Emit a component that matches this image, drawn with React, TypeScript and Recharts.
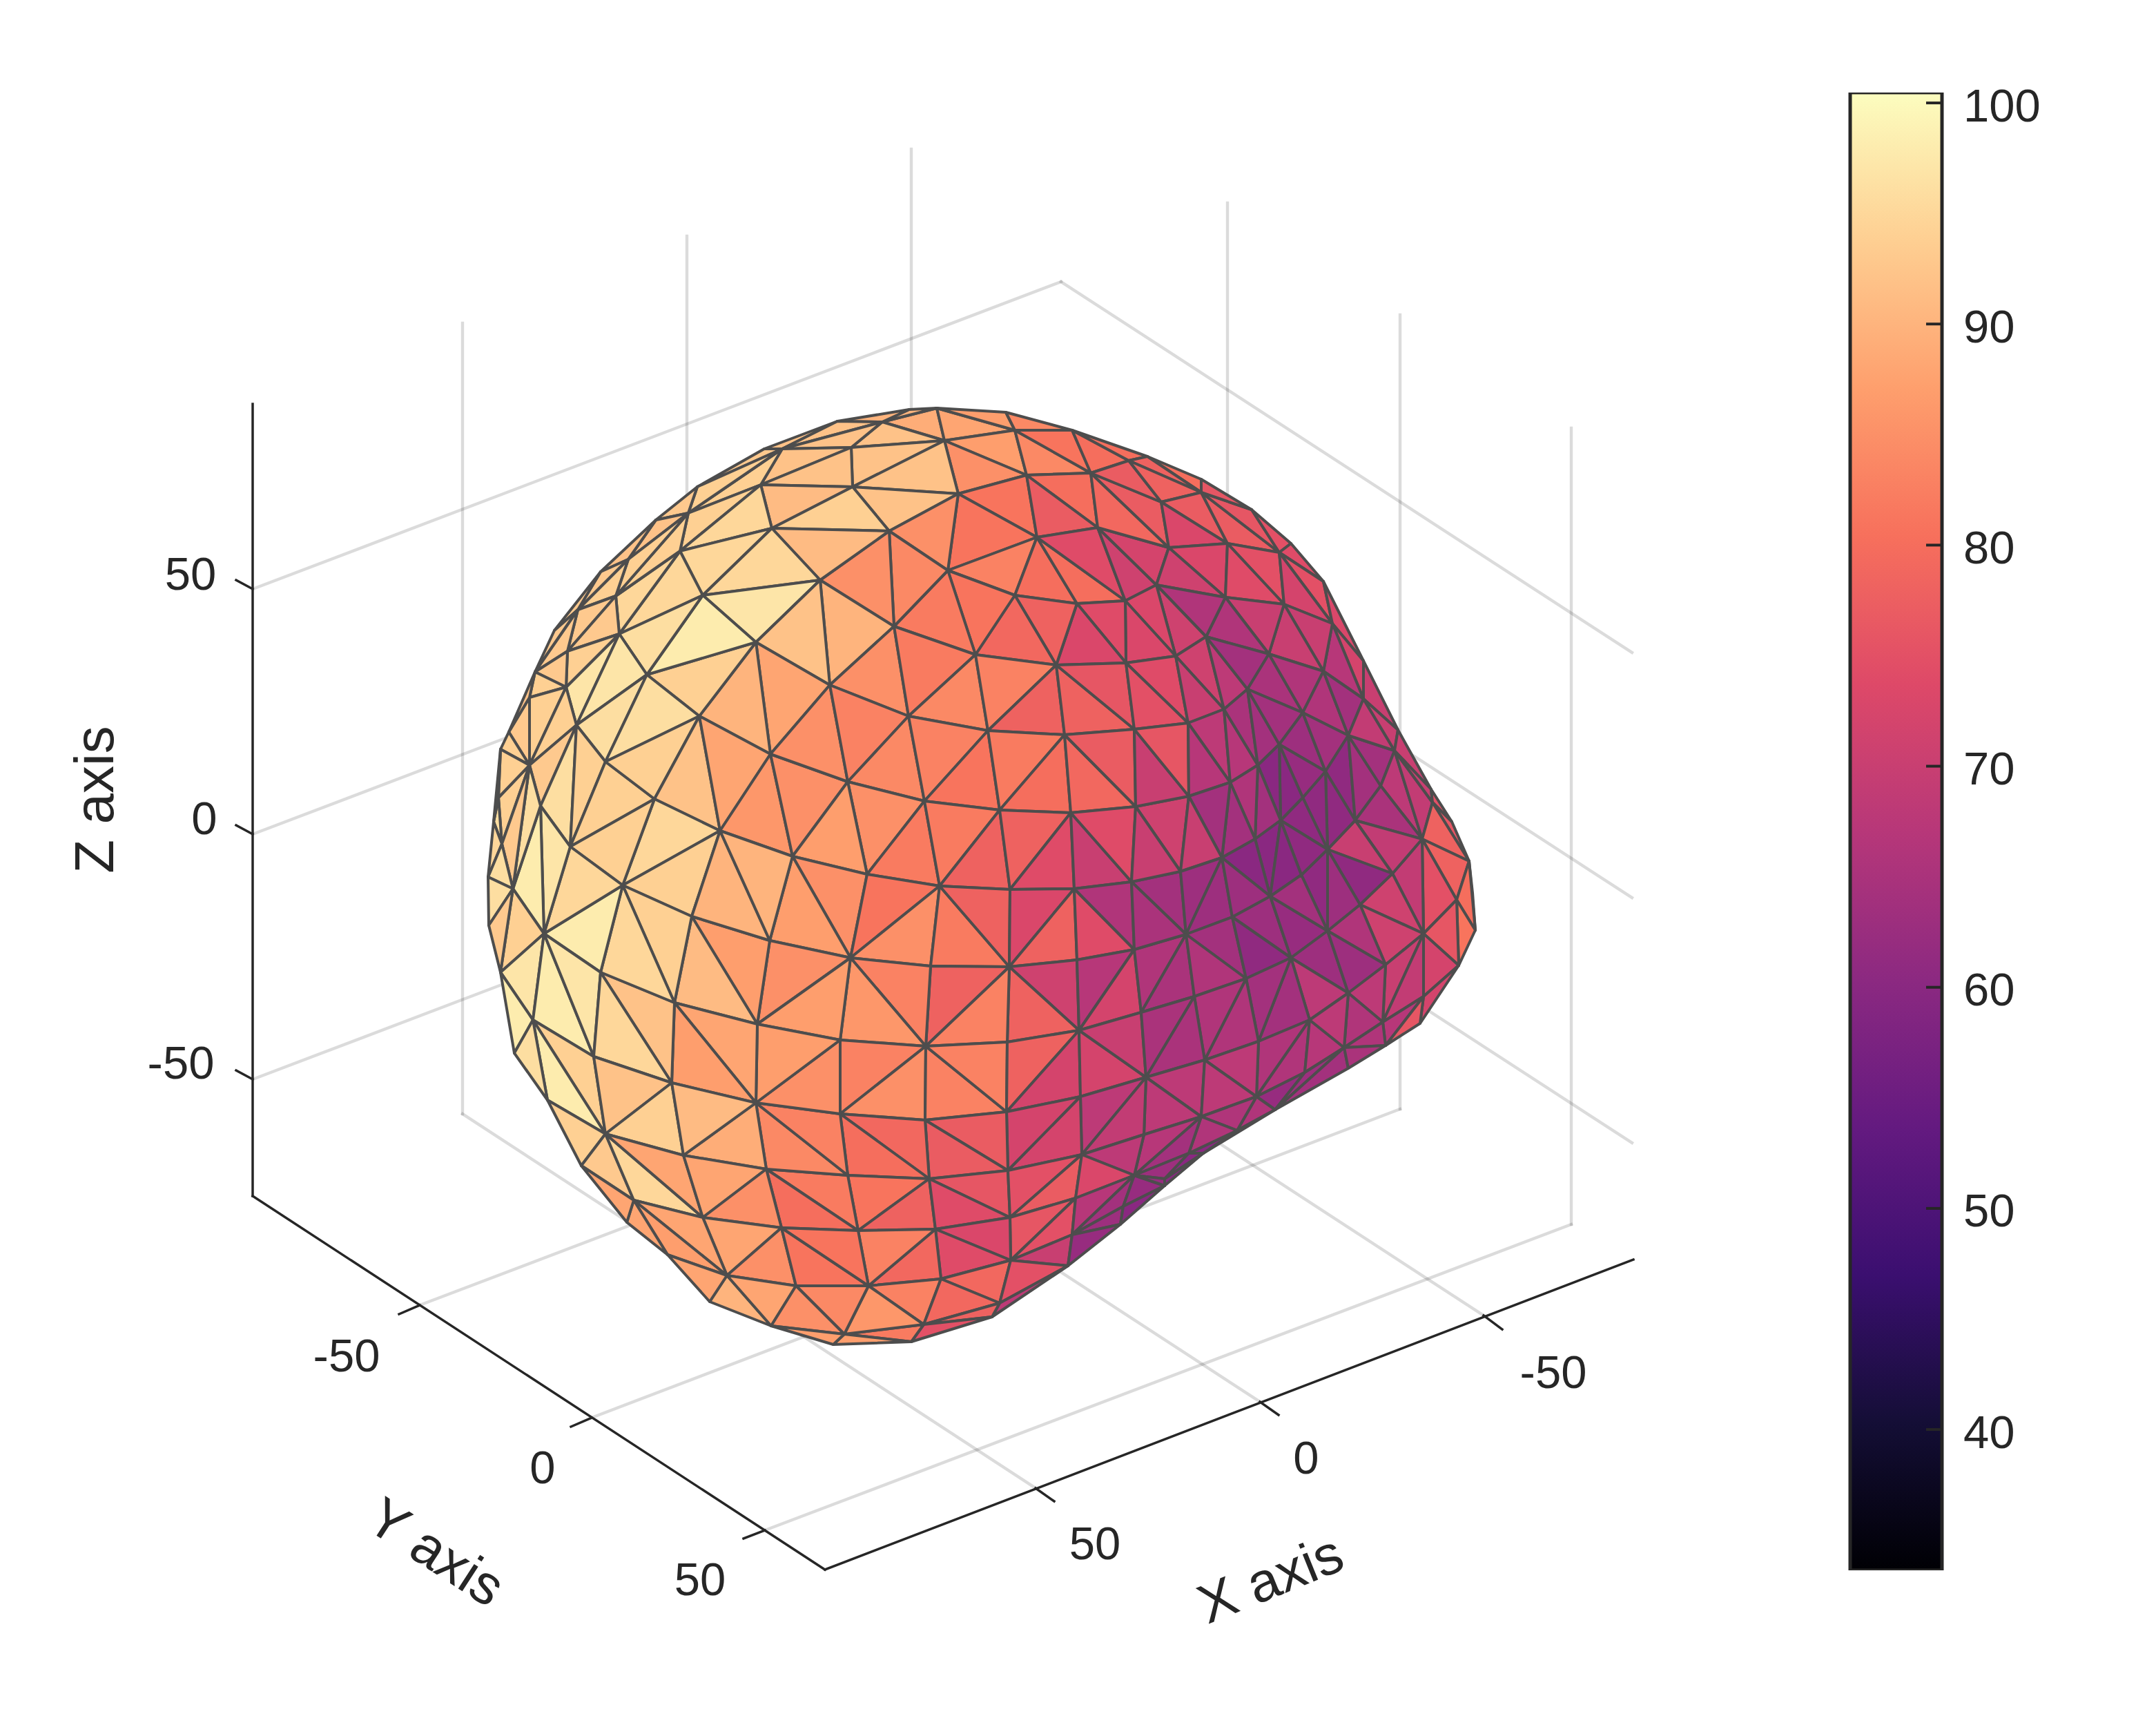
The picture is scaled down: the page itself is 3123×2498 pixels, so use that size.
import React from "react";
import { Bar, BarChart, Scatter, ScatterChart, XAxis, YAxis } from "recharts";

// outline first (0-47), then the inner mesh nodes in plot units
const meshVertices: [number, number][] = [
  [1357,591],[1457,597],[1553,623],[1662,661],[1740,694],[1813,738],[1870,787],[1917,842],[1975,957],[2025,1057],
  [2073,1143],[2103,1190],[2128,1247],[2133,1293],[2137,1347],[2113,1398],[2057,1482],[2007,1514],[1953,1547],[1847,1607],
  [1743,1670],[1687,1717],[1623,1773],[1547,1833],[1437,1907],[1320,1943],[1207,1947],[1117,1920],[1028,1885],[967,1817],
  [908,1770],[842,1688],[793,1593],[745,1525],[725,1408],[708,1340],[707,1270],[715,1190],[725,1085],[737,1060],
  [775,973],[803,913],[870,828],[950,753],[1010,705],[1107,650],[1213,610],[1317,593],[1278,611],[1368,638],
  [1470,623],[1233,648],[1487,688],[1580,685],[1235,705],[1388,715],[1288,769],[1502,778],[1590,764],[1373,826],
  [1188,840],[1470,862],[1560,874],[1630,870],[1675,847],[1295,907],[1413,948],[1530,963],[1631,960],[1202,992],
  [1316,1037],[1431,1058],[1542,1064],[1643,1056],[1133,650],[1102,702],[1033,693],[997,743],[1118,765],[985,798],
  [910,810],[1018,862],[892,863],[897,918],[837,883],[1095,930],[822,943],[937,977],[820,995],[1013,1037],
  [835,1050],[767,1010],[1116,1092],[1635,667],[1740,713],[1682,727],[1693,793],[1778,787],[1853,800],[1775,865],
  [1860,875],[1930,903],[1747,922],[1703,950],[1838,947],[1917,972],[1975,1012],[1807,998],[1887,1032],[1773,1027],
  [1721,1047],[1953,1065],[1853,1078],[2020,1087],[1822,1108],[1920,1117],[1782,1133],[1887,1155],[2000,1138],[1722,1153],
  [1855,1188],[1963,1188],[2075,1162],[2060,1215],[1818,1215],[1923,1230],[1770,1242],[1710,1262],[2017,1265],[1885,1267],
  [1840,1298],[2110,1303],[1970,1310],[1785,1328],[1923,1348],[2062,1352],[1718,1353],[1870,1387],[2007,1397],[1805,1417],
  [1953,1438],[2062,1443],[1730,1443],[1897,1477],[2003,1480],[1823,1508],[1947,1517],[1745,1535],[1660,1560],[1890,1553],
  [1820,1588],[1740,1617],[1657,1643],[1722,1670],[1687,1707],[1792,1637],[1228,1132],[1339,1160],[1448,1173],[1551,1177],
  [1645,1168],[1256,1266],[1361,1283],[1463,1288],[1556,1287],[1639,1277],[1232,1387],[1348,1399],[1462,1400],[1560,1390],
  [1643,1375],[1653,1466],[1563,1492],[1459,1509],[1341,1515],[1217,1506],[877,1103],[767,1108],[948,1157],[783,1167],
  [722,1155],[1043,1203],[826,1226],[1148,1240],[727,1222],[902,1282],[743,1287],[1002,1327],[788,1352],[1115,1362],
  [870,1408],[977,1452],[1097,1483],[772,1477],[860,1530],[973,1568],[1095,1597],[877,1642],[990,1673],[1110,1693],
  [918,1738],[1018,1763],[1132,1778],[1053,1847],[1153,1862],[1217,1613],[1340,1622],[1458,1610],[1565,1588],[1228,1702],
  [1346,1707],[1460,1695],[1567,1672],[1643,1702],[1243,1782],[1355,1780],[1463,1763],[1558,1735],[1627,1747],[1258,1862],
  [1363,1852],[1464,1825],[1553,1788],[1448,1887],[1338,1918],[1223,1932],
];

// three node indices and the value of the face
const meshFaces: [number, number, number, number][] = [
  // top cap
  [0,49,48,89],[0,47,48,90],[46,47,48,90],[0,50,49,88],[0,1,50,87],[1,2,50,84],[49,50,52,87],[50,53,52,84],[50,2,53,81],[2,93,53,80],
  [2,3,93,80],[49,52,55,85],[48,49,51,92],[51,49,54,92],[54,49,55,92],[54,55,56,92],[55,52,57,81],[52,53,58,80],[52,58,57,77],[55,57,59,81],
  [55,59,56,85],[57,59,61,83],[57,61,62,80],[57,62,63,80],[57,63,58,74],[58,64,63,71],[58,96,64,72],[53,58,96,79],[53,96,95,77],[53,95,93,77],
  [3,4,94,80],[3,94,93,78],[93,94,95,78],[95,94,97,77],[95,97,96,73],[96,97,99,73],[96,99,64,71],[94,98,97,77],[94,5,98,76],[4,5,94,76],
  [5,6,98,75],[6,7,98,74],[98,101,7,75],[97,98,100,75],[97,100,99,74],[98,101,100,72],[7,8,101,73],[101,8,106,72],[8,9,106,70],[101,106,105,67],
  [100,101,105,70],[100,105,104,70],[99,100,104,70],[99,104,102,66],[64,99,102,66],[64,102,103,71],[63,64,103,73],[63,103,68,73],[68,103,110,74],[63,62,68,74],
  [62,67,68,73],[61,62,67,78],[61,67,66,79],[59,61,66,81],[59,66,65,82],[56,59,65,84],[56,65,60,85],[60,65,69,90],[65,69,70,85],[65,66,70,82],
  [66,71,70,84],[66,67,71,83],[71,67,72,78],[67,73,72,78],[67,68,73,76],[68,110,73,75],
  // upper left
  [45,46,74,92],[46,48,74,92],[74,48,51,92],[74,51,75,92],[75,51,54,92],[75,54,78,91],[78,54,56,94],[78,56,60,91],[74,75,77,94],[77,75,79,94],
  [79,75,78,95],[79,78,81,95],[81,78,60,95],[81,60,85,97],[60,69,85,92],[85,69,92,88],[85,92,89,90],[87,85,89,94],[81,85,87,98],[79,81,83,95],
  [82,79,83,95],[83,81,87,96],[83,87,88,97],[83,88,90,97],[83,87,90,97],[87,176,90,96],[87,89,176,96],[44,45,74,93],[44,74,77,94],[43,44,77,93],
  [77,79,82,94],[43,77,80,92],[80,77,82,94],[43,80,42,92],[42,80,84,93],[80,82,84,94],[84,82,86,93],[82,83,86,93],[86,83,88,94],[41,42,84,93],
  [41,84,40,93],[84,86,40,93],[40,86,88,93],[40,88,91,94],[91,88,177,94],[88,90,177,94],[177,90,179,93],[90,182,179,96],[90,176,182,94],[176,178,182,94],
  [176,89,178,94],[89,181,178,92],[89,92,181,88],[92,183,181,86],[92,156,183,85],[69,156,92,85],[69,70,156,83],[70,157,156,84],[70,71,157,83],
  // center
  [71,158,157,81],[71,72,158,82],[72,159,158,80],[72,160,159,79],[72,73,160,77],[156,157,161,85],[157,162,161,82],[157,158,162,82],[158,163,162,78],[158,159,163,78],
  [159,164,163,74],[159,165,164,70],[159,160,165,74],[156,161,183,87],[183,161,166,85],[183,166,189,87],[161,162,166,81],[162,167,166,85],[162,168,167,82],[162,163,168,78],
  [163,164,168,73],[164,169,168,78],[164,170,169,74],[164,165,170,66],[168,169,172,71],[169,170,172,67],[170,171,172,72],[168,172,173,78],[167,168,174,78],[168,173,174,83],
  [166,167,174,83],[166,174,175,86],[175,174,205,83],[174,206,205,85],[174,207,206,83],[174,173,207,83],[173,172,207,78],[172,208,207,72],[172,148,208,72],[172,171,148,70],
  [170,136,171,66],[171,136,142,65],[165,127,136,64],[165,136,170,65],[160,119,127,71],[160,127,165,70],[73,119,160,70],[73,110,119,76],
  // right side
  [103,102,109,71],[103,109,110,70],[102,107,109,68],[102,104,107,64],[104,108,107,65],[104,105,108,66],[105,111,108,66],[105,106,111,64],[110,109,116,68],[110,116,119,67],
  [109,114,116,67],[109,107,114,65],[107,112,114,64],[107,108,112,64],[108,115,112,63],[108,111,115,64],[115,111,121,61],[111,118,121,64],[111,113,118,64],[113,123,118,68],
  [118,123,121,65],[113,122,123,69],[106,113,111,69],[106,9,113,70],[9,10,113,70],[10,122,113,70],[10,11,122,75],[11,12,122,76],[122,12,123,78],[123,12,131,78],
  [12,13,14,80],[12,14,131,80],[14,15,131,81],[123,131,135,75],[135,131,15,76],[135,15,141,72],[123,135,128,69],[121,123,128,69],[128,135,132,71],[132,135,138,71],
  [132,134,138,66],[121,128,125,70],[125,128,132,61],[125,132,134,63],[125,134,129,61],[115,121,125,61],[115,125,117,61],[117,125,120,61],[125,120,129,61],[112,115,117,62],
  [112,117,120,60],[114,112,120,60],[114,120,124,64],[116,114,124,66],[116,124,126,64],[119,116,126,64],[119,126,127,70],[124,120,130,60],[124,130,126,60],[120,129,130,60],
  [127,126,136,63],[126,133,136,63],[126,130,133,63],[130,137,133,63],[130,134,137,62],[129,134,130,64],[136,139,133,64],[133,137,139,61],[136,142,139,66],[137,134,140,63],
  [134,138,140,63],[135,138,144,70],[135,144,141,69],[140,138,144,68],[137,140,143,68],[137,143,145,64],[137,145,139,64],[139,145,147,66],[139,147,142,66],[171,142,148,65],
  [142,147,148,65],[147,148,151,68],[145,143,150,66],[143,149,150,66],[143,146,149,67],[150,149,19,62],[149,146,19,63],[146,18,19,64],[140,146,144,66],[140,143,146,68],
  [144,141,17,67],[144,17,146,66],[17,18,146,65],[141,15,16,72],[141,16,17,76],[145,150,147,68],[147,150,151,68],[150,19,155,66],[150,155,151,66],[155,19,20,66],
  [153,155,20,60],[151,155,153,66],[148,151,152,68],[152,151,213,67],[213,151,153,64],
  // lower band
  [208,212,148,68],[207,208,211,72],[208,212,211,72],[148,152,212,69],[152,213,212,68],[206,207,211,77],[206,211,210,77],[205,206,210,79],[205,210,209,80],[209,210,214,81],
  [210,215,214,78],[210,211,216,76],[210,216,215,74],[211,212,216,75],[216,212,217,77],[212,213,217,73],[216,217,221,76],[215,216,221,73],[215,221,220,74],[217,222,221,75],
  [221,222,23,70],[217,213,222,67],[222,213,218,64],[222,218,22,63],[222,22,23,62],[213,21,218,62],[218,21,22,60],[213,153,154,63],[213,154,21,62],[153,20,154,60],
  [154,20,21,60],[215,220,219,79],[214,215,219,83],[220,224,219,83],[220,221,223,79],[220,223,224,79],[223,221,23,75],[223,23,24,68],[224,223,24,78],[224,24,25,75],
  [225,224,25,82],[225,25,26,87],[219,224,225,86],
  // left and lower left
  [199,209,214,82],[199,214,202,80],[196,209,199,84],[196,205,209,83],[175,205,196,85],[189,166,192,85],[166,175,192,87],[192,175,196,87],[187,189,192,87],[187,192,191,91],
  [191,192,196,88],[191,196,195,87],[191,195,190,92],[178,181,185,95],[182,178,185,94],[185,181,187,94],[187,181,189,90],[181,183,189,90],[185,187,191,94],[185,191,190,95],
  [188,185,190,98],[182,185,188,95],[179,182,188,97],[179,188,186,98],[177,179,186,96],[180,177,184,94],[184,177,186,93],[39,91,177,93],[38,39,177,94],[38,177,180,94],
  [39,40,91,92],[37,180,184,96],[37,38,180,95],[36,37,184,95],[36,184,186,96],[36,186,35,96],[34,186,188,94],[35,34,186,93],[34,188,193,97],[34,193,33,98],
  [188,193,194,98],[188,194,190,97],[193,194,197,94],[193,32,197,98],[190,194,195,95],[194,197,195,92],[197,198,195,94],[33,193,32,96],[32,31,197,94],[197,31,200,93],
  [197,200,201,95],[197,201,198,88],[199,198,196,89],[198,195,196,91],[198,199,201,88],[199,202,201,85],[201,202,203,88],[202,204,203,85],[202,219,204,81],[202,214,219,81],
  [200,201,203,88],[200,29,203,87],[28,203,27,90],[203,204,27,88],[204,219,225,84],[27,204,225,85],[27,225,26,87],[200,30,29,88],[200,31,30,88],[28,29,203,88],
];

// 3D box drawn as straight segments
const gridSegments: [number, number, number, number][] = [
  [670,468,670,1613],[995,342,995,1489],[1320,216,1320,1365],[1778,294,1778,1446],[2028,456,2028,1606],[2276,620,2276,1773],
  [366,853,1537,408],[1537,408,2364,945],[366,1208,1537,763],[1537,763,2364,1300],[366,1563,1537,1118],[1537,1118,2364,1655],
  [608,1890,1778,1446],[857,2053,2028,1606],[1108,2216,2276,1773],[1500,2155,670,1613],[1825,2030,995,1489],[2149,1905,1320,1365],
];
const axisSegments: [number, number, number, number][] = [
  [366,585,366,1732],[366,1732,1195,2273],[1195,2273,2366,1824],
  [342,840,366,853],[342,1195,366,1208],[342,1550,366,1563],
  [578,1903,608,1890],[827,2066,857,2053],[1077,2228,1108,2216],
  [1527,2174,1500,2155],[1852,2049,1825,2030],[2176,1925,2149,1905],
];
const tickTexts: [number, number, string][] = [
  [276,830,"50"],[296,1184,"0"],[262,1538,"-50"],
  [502,1962,"-50"],[786,2124,"0"],[1014,2286,"50"],
  [2250,1986,"-50"],[1892,2110,"0"],[1586,2234,"50"],
];
const axisTitles: [number, number, string, number][] = [
  [136,1158,"Z axis",-90],[632,2247,"Y axis",33],[1840,2286,"X axis",-22],
];

const colorTicks = [40, 50, 60, 70, 80, 90, 100];
const colorLow = 33.63;
const colorHigh = 100.47;
const colorRows = [{ name: "value", range: [colorLow, colorHigh] }];
const magmaStops = ["#000004","#140e36","#3b0f70","#641a80","#8c2981","#b73779","#de4968","#f7705c","#fe9f6d","#fecf92","#fcfdbf"];

const INK = "#262626";
const FONT = "'Liberation Sans', Arial, sans-serif";

function hexRgb(hex: string) {
  return [1, 3, 5].map((i) => parseInt(hex.slice(i, i + 2), 16));
}

function magma(value: number) {
  const t = Math.min(1, Math.max(0, (value - colorLow) / (colorHigh - colorLow))) * 10;
  const i = Math.min(9, Math.floor(t));
  const a = hexRgb(magmaStops[i]);
  const b = hexRgb(magmaStops[i + 1]);
  const c = a.map((v, k) => Math.round(v + (b[k] - v) * (t - i)));
  return `rgb(${c[0]},${c[1]},${c[2]})`;
}

const noDot = () => <g />;

function TickText(props: any) {
  const { cx, cy, payload } = props;
  return (
    <text x={cx} y={cy} textAnchor="middle" dominantBaseline="central" fontFamily={FONT} fontSize={67} fill={INK}>
      {payload.label}
    </text>
  );
}

function TitleText(props: any) {
  const { cx, cy, payload } = props;
  return (
    <text x={cx} y={cy} textAnchor="middle" dominantBaseline="central" fontFamily={FONT} fontSize={80} fill={INK}
      transform={`rotate(${payload.angle} ${cx} ${cy})`}>
      {payload.label}
    </text>
  );
}

function ColorTick(props: any) {
  const { x, y, payload } = props;
  return (
    <g>
      <line x1={x - 23} x2={x} y1={y} y2={y} stroke={INK} strokeWidth={4} />
      <text x={x + 31} y={y + 3} dominantBaseline="central" fontFamily={FONT} fontSize={67} fill={INK}>
        {payload.value}
      </text>
    </g>
  );
}

function segmentSeries(list: [number, number, number, number][], stroke: string, width: number, prefix: string) {
  return list.map((s, i) => (
    <Scatter
      key={prefix + i}
      data={[{ x: s[0], y: s[1] }, { x: s[2], y: s[3] }]}
      line={{ stroke, strokeWidth: width, strokeLinecap: "square" }}
      shape={noDot}
      isAnimationActive={false}
      legendType="none"
    />
  ));
}

export default function App() {
  return (
    <div style={{ position: "absolute", left: 0, top: 0, width: 3123, height: 2498, background: "#fff", overflow: "hidden" }}>
      <div style={{ position: "absolute", left: 0, top: 0 }}>
        <ScatterChart width={3123} height={2498} margin={{ top: 0, right: 0, bottom: 0, left: 0 }}>
          <XAxis type="number" dataKey="x" domain={[0, 3123]} hide />
          <YAxis type="number" dataKey="y" domain={[0, 2498]} reversed hide />
          {segmentSeries(gridSegments, "rgba(0,0,0,0.14)", 4.4, "grid")}
          {segmentSeries(axisSegments, INK, 3.5, "axis")}
          {meshFaces.map((f, i) => (
            <Scatter
              key={"face" + i}
              data={[0, 1, 2].map((k) => ({ x: meshVertices[f[k]][0], y: meshVertices[f[k]][1] }))}
              line={{ stroke: "#4d4d4d", strokeWidth: 4, fill: magma(f[3]), strokeLinejoin: "round" }}
              lineJointType="linearClosed"
              shape={noDot}
              isAnimationActive={false}
              legendType="none"
            />
          ))}
          <Scatter
            data={tickTexts.map((t) => ({ x: t[0], y: t[1], label: t[2] }))}
            shape={TickText}
            isAnimationActive={false}
            legendType="none"
          />
          <Scatter
            data={axisTitles.map((t) => ({ x: t[0], y: t[1], label: t[2], angle: t[3] }))}
            shape={TitleText}
            isAnimationActive={false}
            legendType="none"
          />
        </ScatterChart>
      </div>
      <div style={{ position: "absolute", left: 2670, top: 24 }}>
        <BarChart width={423} height={2260} data={colorRows} margin={{ top: 110, right: 10, bottom: 10, left: 10 }} barCategoryGap={0}>
          <defs>
            <linearGradient id="magmaBar" x1="0" y1="1" x2="0" y2="0">
              {magmaStops.map((c, i) => (
                <stop key={c} offset={i / 10} stopColor={c} />
              ))}
            </linearGradient>
          </defs>
          <XAxis dataKey="name" hide />
          <YAxis
            orientation="right"
            type="number"
            width={270}
            domain={[colorLow, colorHigh]}
            ticks={colorTicks}
            interval={0}
            allowDataOverflow
            axisLine={false}
            tickLine={false}
            tickSize={0}
            tickMargin={0}
            tick={ColorTick}
          />
          <Bar dataKey="range" fill="url(#magmaBar)" stroke={INK} strokeWidth={5} isAnimationActive={false} legendType="none" />
        </BarChart>
      </div>
    </div>
  );
}
